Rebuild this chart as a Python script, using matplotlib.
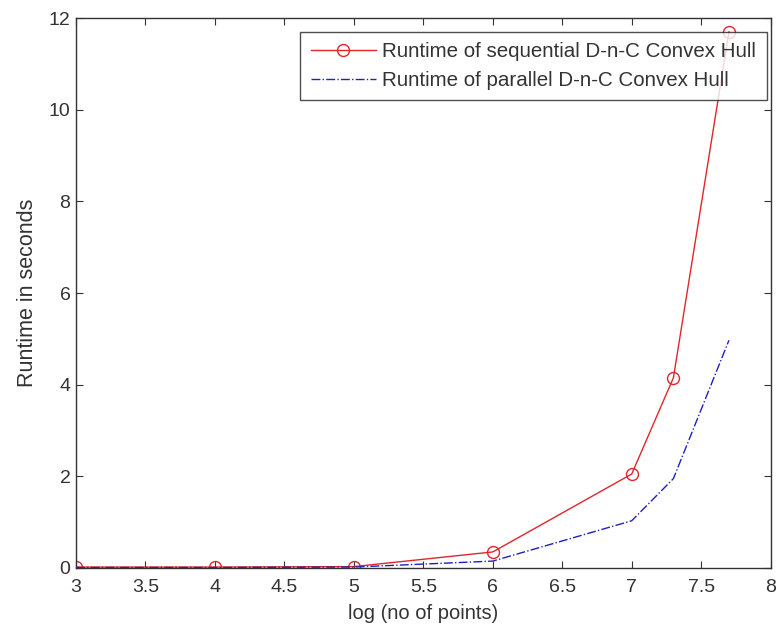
import matplotlib
matplotlib.use('Agg')
import matplotlib.pyplot as plt

plt.rcParams['font.family'] = ['Liberation Sans', 'DejaVu Sans']

# log10 of number of points
log_points = [3, 4, 5, 6, 7, 7.3, 7.7]
# runtimes in seconds
seq_runtime = [0.02, 0.02, 0.03, 0.35, 2.05, 4.15, 11.7]
par_runtime = [0.01, 0.01, 0.02, 0.15, 1.03, 1.95, 4.97]

fig = plt.figure(figsize=(7.8, 6.26), dpi=100)
ax = fig.add_axes([0.0974, 0.0927, 0.8906, 0.8783])

ax.plot(log_points, seq_runtime, color='#e0262b', marker='o', markersize=8.6,
        markerfacecolor='none', markeredgewidth=1.0, linewidth=1.0,
        label='Runtime of sequential D-n-C Convex Hull')
ax.plot(log_points, par_runtime, color='#2020c0', linestyle='-.', linewidth=1.0,
        label='Runtime of parallel D-n-C Convex Hull')

ax.set_xlim(3, 8)
ax.set_ylim(0, 12)
ax.set_xticks([3, 3.5, 4, 4.5, 5, 5.5, 6, 6.5, 7, 7.5, 8])
ax.set_xticklabels(['3', '3.5', '4', '4.5', '5', '5.5', '6', '6.5', '7', '7.5', '8'])
ax.set_yticks([0, 2, 4, 6, 8, 10, 12])
ax.tick_params(direction='in', top=True, right=True, length=5, labelsize=14,
               colors='#333333')
ax.tick_params(axis='x', pad=8)
ax.tick_params(axis='y', pad=4)
for s in ax.spines.values():
    s.set_color('#333333')
    s.set_linewidth(1.0)

ax.set_xlabel('log (no of points)', fontsize=14.5, labelpad=6, color='#333333')
ax.set_ylabel('Runtime in seconds', fontsize=15.5, labelpad=8, color='#333333')

leg = ax.legend(loc='upper right', bbox_to_anchor=(0.9942, 0.9745),
                borderaxespad=0, fontsize=14.8, frameon=True, fancybox=False,
                edgecolor='#222222', handlelength=3.2, borderpad=0.5,
                labelspacing=0.45, handletextpad=0.3)
leg.get_frame().set_linewidth(1.0)
for t in leg.get_texts():
    t.set_color('#333333')

fig.savefig('out.png', dpi=100)
